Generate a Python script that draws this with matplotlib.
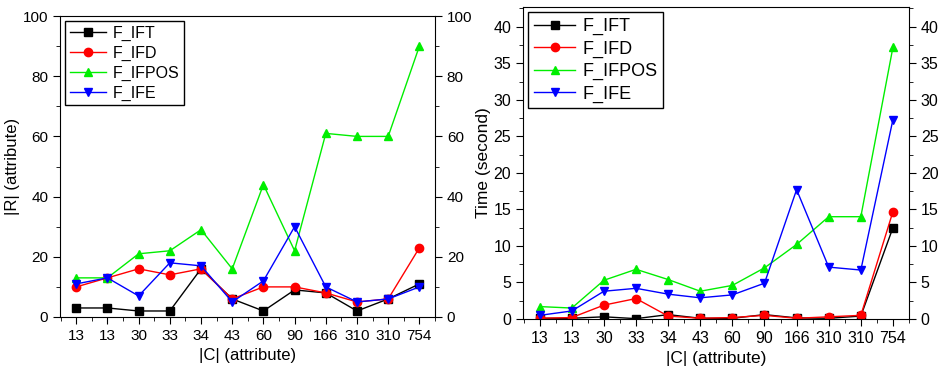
import matplotlib
matplotlib.use("Agg")
from matplotlib import pyplot as plt
from matplotlib.ticker import MultipleLocator

plt.rcParams['font.family'] = ['Liberation Sans', 'DejaVu Sans']

# |C| values of the datasets (x tick labels)
c_labels = ["13", "13", "30", "33", "34", "43", "60", "90", "166", "310", "310", "754"]
series_names = ["F_IFT", "F_IFD", "F_IFPOS", "F_IFE"]

# |R| (attribute)
r_ift = [3, 3, 2, 2, 16, 6, 2, 9, 8, 2, 6, 11]
r_ifd = [10, 13, 16, 14, 16, 6, 10, 10, 8, 5, 6, 23]
r_ifpos = [13, 13, 21, 22, 29, 16, 44, 22, 61, 60, 60, 90]
r_ife = [11, 13, 7, 18, 17, 5, 12, 30, 10, 5, 6, 10]

# Time (second)
t_ift = [0.1, 0.1, 0.3, 0.05, 0.6, 0.1, 0.1, 0.6, 0.15, 0.1, 0.4, 12.5]
t_ifd = [0.1, 0.2, 1.9, 2.8, 0.4, 0.1, 0.2, 0.5, 0.1, 0.3, 0.5, 14.7]
t_ifpos = [1.7, 1.5, 5.3, 6.8, 5.4, 3.8, 4.6, 7.0, 10.2, 14.0, 14.0, 37.2]
t_ife = [0.5, 1.1, 3.8, 4.2, 3.4, 2.9, 3.3, 4.9, 17.7, 7.1, 6.7, 27.3]

colors = ["black", "red", "#00ee00", "blue"]
markers = ["s", "o", "^", "v"]

W, H = 942, 374
fig = plt.figure(figsize=(W / 100, H / 100), dpi=100)
ax1 = fig.add_axes([60 / W, (H - 317) / H, 375 / W, 301 / H])
ax2 = fig.add_axes([523 / W, (H - 319) / H, 386 / W, 312 / H])


def draw(ax, data, ylim, major, minor, ylabel, legsize, txtsize):
    x = range(len(c_labels))
    for vals, name, c, m in zip(data, series_names, colors, markers):
        ax.plot(x, vals, color=c, marker=m, markersize=6, linewidth=1, label=name)
    ax.set_xlim(-0.52, 11.5)
    ax.set_ylim(*ylim)
    ax.set_xticks(list(x))
    ax.set_xticklabels(c_labels)
    ax.xaxis.set_minor_locator(MultipleLocator(0.5))
    ax.yaxis.set_major_locator(MultipleLocator(major))
    ax.yaxis.set_minor_locator(MultipleLocator(minor))
    ax.tick_params(which="both", direction="out", labelsize=txtsize - 1,
                   right=True, labelright=True)
    ax.tick_params(which="major", length=5)
    ax.tick_params(which="minor", length=3)
    ax.set_xlabel("|C| (attribute)", fontsize=txtsize)
    ax.set_ylabel(ylabel, fontsize=txtsize, labelpad=2)
    leg = ax.legend(loc="upper left", fontsize=legsize, fancybox=False, edgecolor="black",
                    framealpha=1, handlelength=2.3, handletextpad=0.4,
                    borderaxespad=0.3, labelspacing=0.3, borderpad=0.3)
    leg.get_frame().set_linewidth(1)


draw(ax1, [r_ift, r_ifd, r_ifpos, r_ife], (0, 100), 20, 10, "|R| (attribute)", 11.5, 12)
draw(ax2, [t_ift, t_ifd, t_ifpos, t_ife], (0, 42.7), 5, 2.5, "Time (second)", 13, 12.5)

fig.savefig("out.png", dpi=100)
